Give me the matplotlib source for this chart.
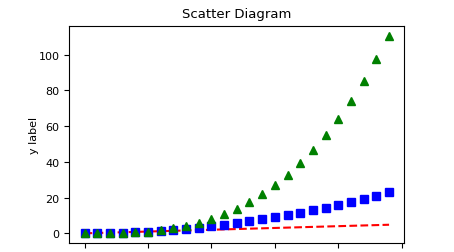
import matplotlib
matplotlib.use("Agg")
import matplotlib.pyplot as plt

t = [0.0, 0.2, 0.4, 0.6, 0.8, 1.0, 1.2, 1.4, 1.6, 1.8, 2.0, 2.2, 2.4,
     2.6, 2.8, 3.0, 3.2, 3.4, 3.6, 3.8, 4.0, 4.2, 4.4, 4.6, 4.8]
squares = [0.0, 0.04, 0.16, 0.36, 0.64, 1.0, 1.44, 1.96, 2.56, 3.24, 4.0,
           4.84, 5.76, 6.76, 7.84, 9.0, 10.24, 11.56, 12.96, 14.44, 16.0,
           17.64, 19.36, 21.16, 23.04]
cubes = [0.0, 0.008, 0.064, 0.216, 0.512, 1.0, 1.728, 2.744, 4.096, 5.832,
         8.0, 10.648, 13.824, 17.576, 21.952, 27.0, 32.768, 39.304, 46.656,
         54.872, 64.0, 74.088, 85.184, 97.336, 110.592]
xticks = [0, 1, 2, 3, 4, 5]
yticks = [0, 20, 40, 60, 80, 100]

fig = plt.figure(figsize=(4.54, 2.53), dpi=100)
ax = fig.add_axes([69.3 / 454, 8.8 / 253, 335 / 454, 217.4 / 253])
ax.plot(t, t, 'r--', t, squares, 'bs', t, cubes, 'g^', markersize=5.5)
ax.set_xticks(xticks)
ax.set_yticks(yticks)
ax.tick_params(labelsize=8)
ax.set_ylabel('y label', fontsize=8, labelpad=0)
ax.set_title('Scatter Diagram', fontsize=9.5)
fig.savefig('out.png', dpi=100)
